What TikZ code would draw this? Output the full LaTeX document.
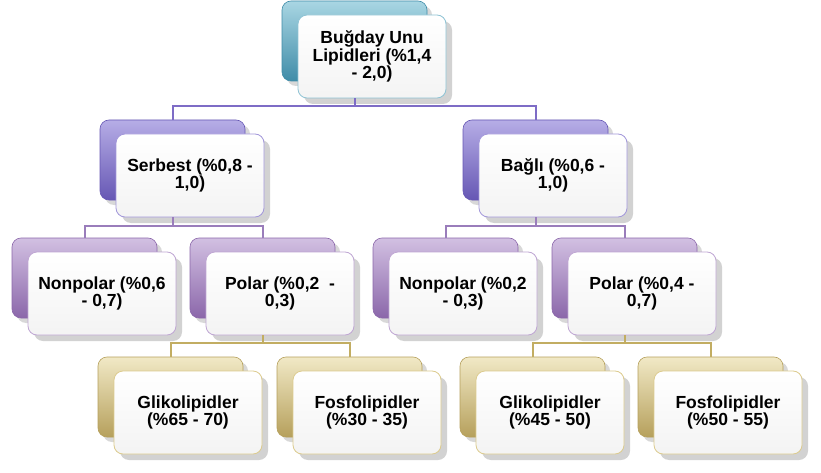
\documentclass[tikz,border=0pt]{standalone}
\usepackage{fontspec}
\setmainfont{Liberation Sans}
\usetikzlibrary{shadows}
\definecolor{tAl}{HTML}{A9D6E3}
\definecolor{tAm}{HTML}{6FB3C9}
\definecolor{tAd}{HTML}{3F8CA8}
\definecolor{tBl}{HTML}{B6ADE6}
\definecolor{tBm}{HTML}{8A7ED2}
\definecolor{tBd}{HTML}{6657B4}
\definecolor{tCl}{HTML}{D2C0E2}
\definecolor{tCm}{HTML}{AA8DC6}
\definecolor{tCd}{HTML}{8B67AA}
\definecolor{tDl}{HTML}{F1E9C6}
\definecolor{tDm}{HTML}{D8C88F}
\definecolor{tDd}{HTML}{B6A05C}
\definecolor{fA}{HTML}{8EC3D4}
\definecolor{fB}{HTML}{A297DA}
\definecolor{fC}{HTML}{BFA6D3}
\definecolor{fD}{HTML}{DCCB8E}
\definecolor{cB}{HTML}{7E6CC6}
\definecolor{cC}{HTML}{9A7DBB}
\definecolor{cD}{HTML}{C2AD62}
\tikzset{
  tabbase/.style={rectangle, rounded corners=9pt, minimum width=145pt, minimum height=80pt, inner sep=0pt, line width=0.6pt,
    drop shadow={shadow xshift=5pt, shadow yshift=-5pt, opacity=0.3, fill=gray}},
  tabA/.style={tabbase, top color=tAl, middle color=tAm, bottom color=tAd, draw=tAd},
  tabB/.style={tabbase, top color=tBl, middle color=tBm, bottom color=tBd, draw=tBd},
  tabC/.style={tabbase, top color=tCl, middle color=tCm, bottom color=tCd, draw=tCd},
  tabD/.style={tabbase, top color=tDl, middle color=tDm, bottom color=tDd, draw=tDd},
  frontbase/.style={rectangle, rounded corners=9pt, minimum width=148pt, minimum height=83pt, inner sep=2pt, align=center,
    font=\bfseries\fontsize{17.5}{15}\selectfont, top color=white, bottom color=gray!9, line width=0.8pt,
    drop shadow={shadow xshift=6pt, shadow yshift=-6pt, opacity=0.35, fill=gray}},
  frontA/.style={frontbase, draw=fA},
  frontB/.style={frontbase, draw=fB},
  frontC/.style={frontbase, draw=fC},
  frontD/.style={frontbase, draw=fD},
  connB/.style={line width=2pt, draw=cB},
  connC/.style={line width=2pt, draw=cC},
  connD/.style={line width=2pt, draw=cD},
}
\begin{document}
\begin{tikzpicture}[x=1pt,y=-1pt]
\useasboundingbox[fill=white] (0,0) rectangle (821,473);
% level 1
\node[tabA] (t0) at (354.5,41) {};
\node[frontA] (f0) at ([xshift=17.5pt,yshift=-15.5pt]t0.center) {Buğday Unu\\Lipidleri (\%1,4\\- 2,0)};
% level 2
\node[tabB] (t1) at (172.5,160) {};
\node[frontB] (f1) at ([xshift=17.5pt,yshift=-15.5pt]t1.center) {Serbest (\%0,8 -\\1,0)};
\node[tabB] (t2) at (535.5,160) {};
\node[frontB] (f2) at ([xshift=17.5pt,yshift=-15.5pt]t2.center) {Bağlı (\%0,6 -\\1,0)};
% level 3
\node[tabC] (t3) at (84.5,278) {};
\node[frontC] (f3) at ([xshift=17.5pt,yshift=-15.5pt]t3.center) {Nonpolar (\%0,6\\- 0,7)};
\node[tabC] (t4) at (262.5,278) {};
\node[frontC] (f4) at ([xshift=17.5pt,yshift=-15.5pt]t4.center) {Polar (\%0,2\ \ -\\0,3)};
\node[tabC] (t5) at (445.5,278) {};
\node[frontC] (f5) at ([xshift=17.5pt,yshift=-15.5pt]t5.center) {Nonpolar (\%0,2\\- 0,3)};
\node[tabC] (t6) at (624.5,278) {};
\node[frontC] (f6) at ([xshift=17.5pt,yshift=-15.5pt]t6.center) {Polar (\%0,4 -\\0,7)};
% level 4
\node[tabD] (t7) at (170.5,397) {};
\node[frontD] (f7) at ([xshift=17.5pt,yshift=-15.5pt]t7.center) {Glikolipidler\\(\%65 - 70)};
\node[tabD] (t8) at (349.5,397) {};
\node[frontD] (f8) at ([xshift=17.5pt,yshift=-15.5pt]t8.center) {Fosfolipidler\\(\%30 - 35)};
\node[tabD] (t9) at (532.5,397) {};
\node[frontD] (f9) at ([xshift=17.5pt,yshift=-15.5pt]t9.center) {Glikolipidler\\(\%45 - 50)};
\node[tabD] (t10) at (710.5,397) {};
\node[frontD] (f10) at ([xshift=17.5pt,yshift=-15.5pt]t10.center) {Fosfolipidler\\(\%50 - 55)};
% connectors
\draw[connB] (t0.center |- f0.south) -- ++(0,8) -| (t1.north);
\draw[connB] (t0.center |- f0.south) -- ++(0,8) -| (t2.north);
\draw[connC] (t1.center |- f1.south) -- ++(0,9) -| (t3.north);
\draw[connC] (t1.center |- f1.south) -- ++(0,9) -| (t4.north);
\draw[connC] (t2.center |- f2.south) -- ++(0,9) -| (t5.north);
\draw[connC] (t2.center |- f2.south) -- ++(0,9) -| (t6.north);
\draw[connD] (t4.center |- f4.south) -- ++(0,8) -| (t7.north);
\draw[connD] (t4.center |- f4.south) -- ++(0,8) -| (t8.north);
\draw[connD] (t6.center |- f6.south) -- ++(0,8) -| (t9.north);
\draw[connD] (t6.center |- f6.south) -- ++(0,8) -| (t10.north);
\end{tikzpicture}
\end{document}
